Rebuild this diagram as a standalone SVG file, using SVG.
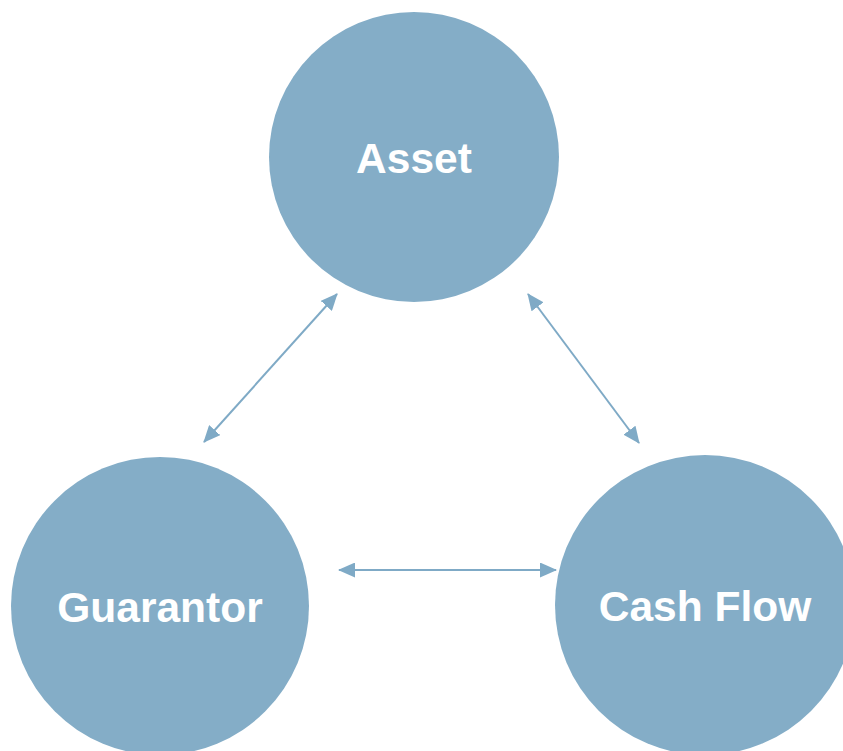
<svg xmlns="http://www.w3.org/2000/svg" width="843" height="751" viewBox="0 0 843 751">
  <style>
    .node { fill: #84ADC7; }
    .label { font-family: "Liberation Sans", Arial, sans-serif; font-weight: bold; font-size: 42.5px; fill: #FFFFFF; text-anchor: middle; }
    .link { stroke: #7FAAC6; stroke-width: 2; fill: none; marker-start: url(#head); marker-end: url(#head); }
  </style>
  <defs>
    <marker id="head" viewBox="0 0 17 15" refX="16" refY="7.5" markerWidth="17" markerHeight="15" markerUnits="userSpaceOnUse" orient="auto-start-reverse">
      <path d="M0,0 L17,7.5 L0,15 Z" fill="#7FAAC6"/>
    </marker>
  </defs>
  <rect width="843" height="751" fill="#FFFFFF"/>

  <g id="connectors">
    <line class="link" x1="204" y1="442" x2="337" y2="294"/>
    <line class="link" x1="528" y1="294" x2="639" y2="443"/>
    <line class="link" x1="339" y1="570" x2="556" y2="570"/>
  </g>

  <g id="asset">
    <circle class="node" cx="414" cy="157" r="145"/>
    <text class="label" x="414" y="173">Asset</text>
  </g>

  <g id="guarantor">
    <circle class="node" cx="160" cy="606" r="149"/>
    <text class="label" x="160" y="622">Guarantor</text>
  </g>

  <g id="cash-flow">
    <circle class="node" cx="705" cy="605" r="150"/>
    <text class="label" x="705" y="621">Cash Flow</text>
  </g>
</svg>
